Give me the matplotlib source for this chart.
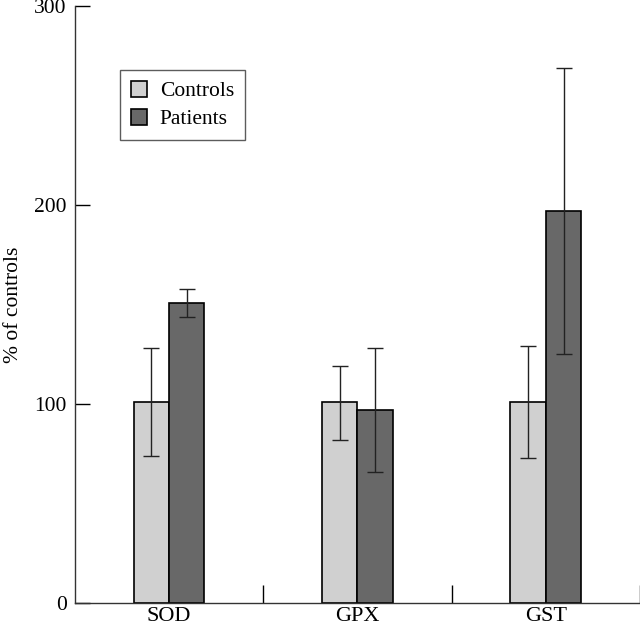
import matplotlib.pyplot as plt
import numpy as np

plt.rcParams['font.family'] = ['Liberation Serif', 'DejaVu Serif']

#------------ donnees ----------
enzymes = ['SOD', 'GPX', 'GST']
controls = [101, 101, 101]
controls_low = [74, 82, 73]
controls_high = [128, 119, 129]
patients = [151, 97, 197]
patients_low = [144, 66, 125]
patients_high = [158, 128, 269]

c_col = '#d0d0d0'
p_col = '#686868'
fs = 15.5

#------------ trace ----------
fig = plt.figure(figsize=(6.4, 6.28), dpi=100)
ax = fig.add_axes([0.117, 0.040, 0.883, 0.950])

x = np.arange(len(enzymes))
w = 0.188
c = np.array(controls)
p = np.array(patients)
c_err = [c - np.array(controls_low), np.array(controls_high) - c]
p_err = [p - np.array(patients_low), np.array(patients_high) - p]

ax.bar(x - w/2, c, w, color=c_col, edgecolor='black', linewidth=1.2,
       label='Controls', zorder=2)
ax.bar(x + w/2, p, w, color=p_col, edgecolor='black', linewidth=1.2,
       label='Patients', zorder=2)
ax.errorbar(x - w/2, c, yerr=c_err, fmt='none', ecolor='#222222',
            elinewidth=1, capsize=6, capthick=1, zorder=3)
ax.errorbar(x + w/2, p, yerr=p_err, fmt='none', ecolor='#222222',
            elinewidth=1, capsize=6, capthick=1, zorder=3)

ax.set_xlim(-0.5, 2.5)
ax.set_ylim(0, 300)
ax.set_yticks([0, 100, 200, 300])
ax.set_xticks([0.5, 1.5, 2.5])
ax.set_xticklabels([])
ax.set_xticks(x, minor=True)
ax.set_xticklabels(enzymes, minor=True, fontsize=16)
ax.tick_params(axis='x', which='minor', length=0, pad=3)
ax.tick_params(axis='x', which='major', direction='in', length=13, width=1)
ax.tick_params(axis='y', direction='in', length=11, width=1,
               labelsize=fs, pad=6)
ax.spines['top'].set_visible(False)
ax.spines['right'].set_visible(False)
for s in ['left', 'bottom']:
    ax.spines[s].set_linewidth(1)
    ax.spines[s].set_color('#333333')

ax.set_ylabel('% of controls', fontsize=fs, labelpad=8)

leg = ax.legend(loc='upper left', bbox_to_anchor=(0.08, 0.893),
                fontsize=fs, fancybox=False, edgecolor='#333333',
                handlelength=0.75, handleheight=0.75, handletextpad=0.6,
                borderpad=0.5, labelspacing=0.35, borderaxespad=0)
leg.get_frame().set_linewidth(1)

fig.savefig('out.png', dpi=100)
